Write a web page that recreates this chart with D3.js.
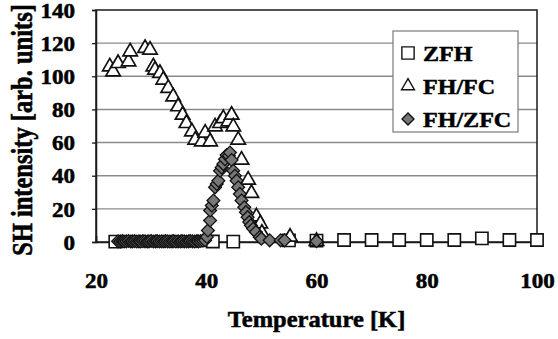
<!DOCTYPE html>
<html>
<head>
<meta charset="utf-8">
<script src="https://cdn.jsdelivr.net/npm/d3@7"></script>
<style>
  html, body { margin: 0; padding: 0; background: #fff; }
  svg { display: block; }
  .lbl { font-family: "Liberation Serif", "Times New Roman", serif; font-weight: bold; fill: #000; stroke: #000; stroke-width: 0.5px; }
</style>
</head>
<body>
<svg id="chart" width="558" height="339"></svg>
<script>
// Temperature axis ticks and SH intensity axis ticks
const xTicks = [20, 40, 60, 80, 100];
const yTicks = [0, 20, 40, 60, 80, 100, 120, 140];
const seriesNames = ["ZFH", "FH/FC", "FH/ZFC"];

// ZFH: temperature (K) and SH intensity
const zfhT = [23.5, 41.2, 44.9, 55.0, 60.0, 65.0, 70.0, 75.0, 80.0, 85.0, 90.0, 95.0, 100.0];
const zfhV = [0.2, 0.3, 0.2, 1.0, 0.8, 1.2, 1.2, 1.2, 1.2, 1.2, 2.2, 1.2, 1.2];

// FH/FC
const fcT = [22.5, 23.1, 24.0, 25.9, 26.2, 28.9, 29.8, 30.4, 30.7, 31.6, 32.2, 33.1, 34.0, 34.9,
             35.7, 36.4, 37.4, 38.0, 39.2, 39.8, 40.7, 41.6, 42.5, 43.1, 44.0, 44.6, 44.9, 45.8,
             46.4, 47.6, 48.2, 49.1, 49.8, 50.1, 55.2, 60.0];
const fcV = [105.8, 102.8, 107.8, 108.8, 114.8, 116.9, 115.9, 105.8, 103.8, 101.8, 97.8, 92.8, 87.7, 81.7,
             76.6, 71.6, 66.6, 61.6, 60.5, 65.8, 60.5, 69.6, 71.6, 74.6, 72.6, 76.6, 69.6, 61.6,
             49.5, 37.4, 29.4, 15.3, 11.0, 5.4, 3.0, 0.5];

// FH/ZFC
const zfcT = [24.0, 24.4, 24.8, 25.1, 25.5, 25.9, 26.3, 26.6, 27.0, 27.4, 27.8, 28.1, 28.5, 28.9,
              29.3, 29.6, 30.0, 30.4, 30.8, 31.1, 31.5, 31.9, 32.3, 32.6, 33.0, 33.4, 33.8, 34.1,
              34.5, 34.9, 35.3, 35.6, 36.0, 36.4, 36.8, 37.1, 37.5, 37.9, 38.3, 38.6, 39.0, 39.4,
              39.8, 40.1, 40.3, 40.7, 40.7, 41.0, 41.3, 41.6, 41.9, 42.2, 42.5, 42.8, 43.1, 43.4,
              43.7, 44.1, 44.3, 44.6, 44.9, 45.2, 45.5, 45.8, 46.1, 46.4, 46.9, 47.2, 47.5, 47.8,
              48.1, 48.5, 49.0, 49.7, 50.0, 51.5, 53.5, 54.2, 60.0];
const zfcV = [0.4, 0.3, 0.5, 0.3, 0.4, 0.6, 0.3, 0.4, 0.5, 0.3, 0.4, 0.3, 0.5, 0.4,
              0.3, 0.4, 0.6, 0.3, 0.4, 0.5, 0.3, 0.4, 0.3, 0.5, 0.4, 0.3, 0.4, 0.5,
              0.3, 0.4, 0.3, 0.5, 0.4, 0.3, 0.4, 0.6, 0.4, 0.3, 0.5, 0.4, 0.6, 0.8,
              1.0, 3.0, 7.0, 13.0, 19.0, 22.0, 25.0, 33.0, 35.0, 37.0, 43.0, 45.0, 47.0, 50.0,
              52.5, 52.0, 54.0, 49.5, 43.0, 40.0, 37.0, 33.0, 29.0, 25.0, 21.0, 18.0, 15.0, 12.0,
              10.0, 8.0, 6.0, 3.0, 2.0, 1.0, 1.0, 1.0, 0.5];

const svg = d3.select("#chart");
const plot = { left: 96, right: 537, top: 10, bottom: 242 };

const x = d3.scaleLinear().domain([20, 100]).range([plot.left, plot.right]);
const y = d3.scaleLinear().domain([0, 140]).range([plot.bottom, plot.top]);

// horizontal gridlines
svg.append("g")
  .selectAll("line")
  .data(yTicks.filter(v => v > 0 && v < 140))
  .join("line")
  .attr("x1", plot.left).attr("x2", plot.right)
  .attr("y1", d => y(d)).attr("y2", d => y(d))
  .attr("stroke", "#8a8a8a").attr("stroke-width", 1.4);

// plot frame
svg.append("rect")
  .attr("x", plot.left).attr("y", plot.top)
  .attr("width", plot.right - plot.left).attr("height", plot.bottom - plot.top)
  .attr("fill", "none").attr("stroke", "#1a1a1a").attr("stroke-width", 1.5);

function styleAxisText(sel) {
  sel.attr("class", "lbl")
    .attr("font-family", "Liberation Serif, Times New Roman, serif")
    .attr("font-weight", "bold")
    .attr("font-size", "20px");
}

// y axis
const yAxis = svg.append("g")
  .attr("transform", `translate(${plot.left},0)`)
  .call(d3.axisLeft(y).tickValues(yTicks).tickSize(4).tickPadding(0).tickFormat(d3.format("d")))
  .attr("font-family", null).attr("font-size", null);
yAxis.select(".domain").attr("stroke", "#1a1a1a").attr("stroke-width", 1.5);
yAxis.selectAll(".tick line").attr("stroke", "#1a1a1a").attr("stroke-width", 1.3);
yAxis.selectAll(".tick text")
  .call(styleAxisText)
  .attr("x", -21 / 1.15).attr("dy", "0.36em")
  .attr("transform", "scale(1.15,1)");

// x axis along zero
const xAxis = svg.append("g")
  .attr("transform", `translate(0,${plot.bottom})`)
  .call(d3.axisBottom(x).tickValues(xTicks).tickSize(-6).tickPadding(0).tickFormat(d3.format("d")))
  .attr("font-family", null).attr("font-size", null);
xAxis.select(".domain").attr("stroke", "#1a1a1a").attr("stroke-width", 1.5);
xAxis.selectAll(".tick line").attr("stroke", "#1a1a1a").attr("stroke-width", 1.3);
xAxis.selectAll(".tick text")
  .call(styleAxisText)
  .attr("y", 46).attr("dy", 0)
  .attr("transform", "scale(1.15,1)");

// marker shapes
const squarePath = d3.symbol(d3.symbolSquare, 150)();
const trianglePath = d3.symbol(d3.symbolTriangle, 90)();
const diamondPath = d3.symbol(d3.symbolSquare, 82)();

const zfh = zfhT.map((t, i) => ({ t, v: zfhV[i] }));
const fc = fcT.map((t, i) => ({ t, v: fcV[i] }));
const zfc = zfcT.map((t, i) => ({ t, v: zfcV[i] }));

svg.append("g").selectAll("path").data(zfh).join("path")
  .attr("d", squarePath)
  .attr("transform", d => `translate(${x(d.t)},${y(d.v)})`)
  .attr("fill", "#fff").attr("stroke", "#111").attr("stroke-width", 1.6);

svg.append("g").selectAll("path").data(fc).join("path")
  .attr("d", trianglePath)
  .attr("transform", d => `translate(${x(d.t)},${y(d.v)})`)
  .attr("fill", "#fff").attr("stroke", "#111").attr("stroke-width", 1.7);

svg.append("g").selectAll("path").data(zfc).join("path")
  .attr("d", diamondPath)
  .attr("transform", d => `translate(${x(d.t)},${y(d.v)}) rotate(45)`)
  .attr("fill", "#777").attr("stroke", "#111").attr("stroke-width", 1.3);

// legend
const legend = svg.append("g");
legend.append("rect")
  .attr("x", 393).attr("y", 31).attr("width", 125).attr("height", 101)
  .attr("fill", "#fff").attr("stroke", "#7a7a7a").attr("stroke-width", 1.2);

const legendPaths = [squarePath, d3.symbol(d3.symbolTriangle, 72)(), d3.symbol(d3.symbolSquare, 72)()];
const legendRot = [0, 0, 45];
const legendFill = ["#fff", "#fff", "#777"];
const legendY = [53, 86, 119];
seriesNames.forEach((name, i) => {
  legend.append("path")
    .attr("d", legendPaths[i])
    .attr("transform", `translate(408,${legendY[i]}) rotate(${legendRot[i]})`)
    .attr("fill", legendFill[i]).attr("stroke", "#111").attr("stroke-width", 1.4);
  legend.append("text")
    .attr("class", "lbl")
    .attr("transform", `translate(423,${legendY[i] + 7.5}) scale(1.12,1)`)
    .style("font-size", "21.5px")
    .text(name);
});

// axis titles
svg.append("text")
  .attr("class", "lbl")
  .attr("transform", "translate(316.5,327) scale(1.09,1)")
  .attr("text-anchor", "middle")
  .style("font-size", "22.5px")
  .text("Temperature [K]");

svg.append("text")
  .attr("class", "lbl")
  .attr("transform", "translate(32,130) scale(1.2,1) rotate(-90)")
  .attr("text-anchor", "middle")
  .style("font-size", "24.5px")
  .text("SH intensity [arb. units]");
</script>
</body>
</html>
